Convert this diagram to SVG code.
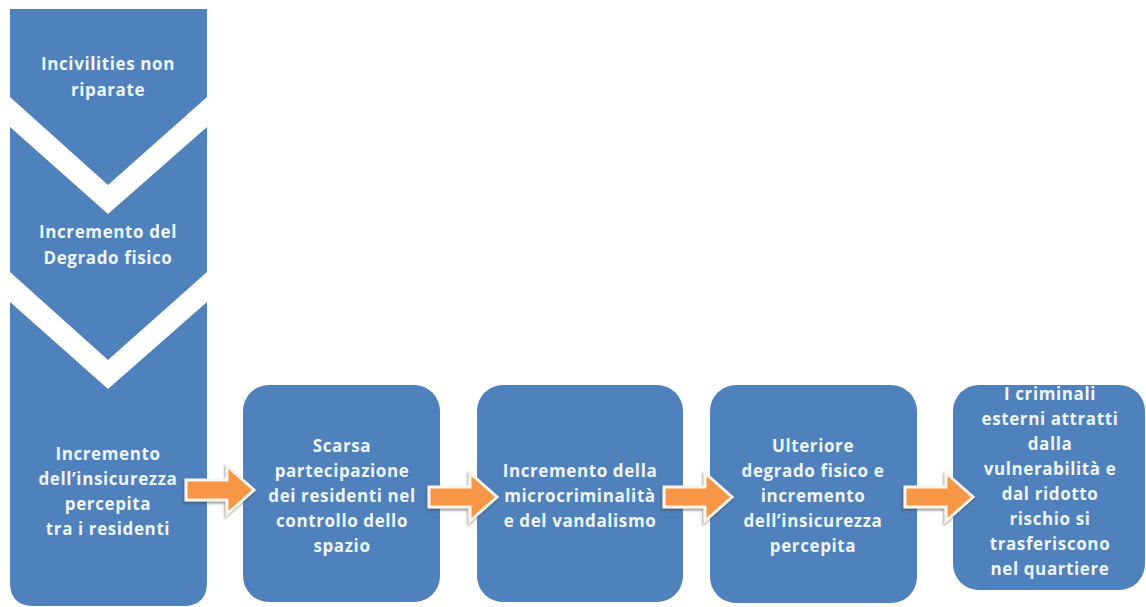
<svg xmlns="http://www.w3.org/2000/svg" width="1146" height="607" viewBox="0 0 1146 607">
  <style>
    .blk { fill: #4f81bd; }
    .lbl { font-family: "Open Sans", "Liberation Sans", sans-serif; font-weight: bold; font-size: 17px; letter-spacing: 0.6px; fill: #eef5fc; text-anchor: middle; }
    .arr { fill: #f79646; stroke: #fbf4ec; stroke-width: 3; stroke-linejoin: miter; }
  </style>
  <defs>
    <filter id="shadow" x="-20%" y="-20%" width="140%" height="150%">
      <feDropShadow dx="-1" dy="2" stdDeviation="1.2" flood-color="#444" flood-opacity="0.55"/>
    </filter>
    <!-- block arrow, left end at x=0, centred on y=0 -->
    <path id="blockArrow" class="arr" d="M0,-10 L41,-10 L41,-24 L68,0 L41,24 L41,10 L0,10 Z"/>
  </defs>

  <rect width="1146" height="607" fill="#ffffff"/>

  <!-- vertical chevron column -->
  <g id="n-incivilities">
    <path class="blk" d="M10,9 L207,9 L207,97 L108,185 L10,97 Z"/>
    <text class="lbl" x="108" y="70">Incivilities non</text>
    <text class="lbl" x="108" y="96">riparate</text>
  </g>
  <g id="n-degrado">
    <path class="blk" d="M10,127 L108,214 L207,127 L207,272 L108,360 L10,272 Z"/>
    <text class="lbl" x="108" y="238">Incremento del</text>
    <text class="lbl" x="108" y="264">Degrado fisico</text>
  </g>
  <g id="n-insicurezza">
    <path class="blk" d="M10,302 L108,389 L207,302 L207,582 Q207,606 183,606 L34,606 Q10,606 10,582 Z"/>
    <text class="lbl" x="108" y="460">Incremento</text>
    <text class="lbl" x="108" y="485">dell’insicurezza</text>
    <text class="lbl" x="108" y="510">percepita</text>
    <text class="lbl" x="108" y="535">tra i residenti</text>
  </g>

  <!-- horizontal process boxes -->
  <g id="n-partecipazione">
    <rect class="blk" x="243" y="385" width="197" height="217" rx="26"/>
    <text class="lbl" x="342" y="452">Scarsa</text>
    <text class="lbl" x="342" y="477">partecipazione</text>
    <text class="lbl" x="342" y="502">dei residenti nel</text>
    <text class="lbl" x="342" y="527">controllo dello</text>
    <text class="lbl" x="342" y="552">spazio</text>
  </g>
  <g id="n-microcriminalita">
    <rect class="blk" x="477" y="385" width="206" height="217" rx="26"/>
    <text class="lbl" x="580" y="477">Incremento della</text>
    <text class="lbl" x="580" y="502">microcriminalità</text>
    <text class="lbl" x="580" y="527">e del vandalismo</text>
  </g>
  <g id="n-ulteriore">
    <rect class="blk" x="710" y="385" width="207" height="218" rx="26"/>
    <text class="lbl" x="813" y="452">Ulteriore</text>
    <text class="lbl" x="813" y="477">degrado fisico e</text>
    <text class="lbl" x="813" y="502">incremento</text>
    <text class="lbl" x="813" y="527">dell’insicurezza</text>
    <text class="lbl" x="813" y="552">percepita</text>
  </g>
  <g id="n-criminali">
    <rect class="blk" x="953" y="385" width="192" height="205" rx="26"/>
    <text class="lbl" x="1050" y="400">I criminali</text>
    <text class="lbl" x="1050" y="425">esterni attratti</text>
    <text class="lbl" x="1050" y="450">dalla</text>
    <text class="lbl" x="1050" y="475">vulnerabilità e</text>
    <text class="lbl" x="1050" y="500">dal ridotto</text>
    <text class="lbl" x="1050" y="525">rischio si</text>
    <text class="lbl" x="1050" y="550">trasferiscono</text>
    <text class="lbl" x="1050" y="575">nel quartiere</text>
  </g>

  <!-- connectors -->
  <g id="connectors" filter="url(#shadow)">
    <use href="#blockArrow" transform="translate(186,490)"/>
    <use href="#blockArrow" transform="translate(429,497)"/>
    <use href="#blockArrow" transform="translate(664,497)"/>
    <use href="#blockArrow" transform="translate(905,497)"/>
  </g>
</svg>
